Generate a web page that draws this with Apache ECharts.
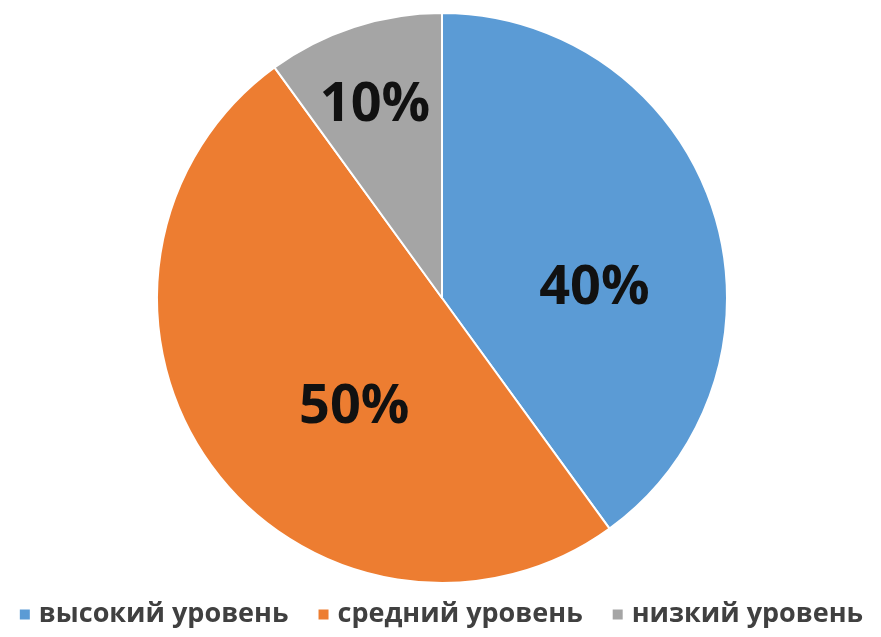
<!DOCTYPE html>
<html>
<head>
<meta charset="utf-8">
<script src="https://cdn.jsdelivr.net/npm/echarts@6/dist/echarts.min.js"></script>
<style>
  html, body { margin: 0; padding: 0; background: #ffffff; }
  #chart { width: 881px; height: 637px; }
</style>
</head>
<body>
<div id="chart"></div>
<script>
// Levels and their shares, in percent
const categories = ['высокий уровень', 'средний уровень', 'низкий уровень'];
const values = [40, 50, 10];
const colors = ['#5B9BD5', '#ED7D31', '#A5A5A5'];
// Nudges for the percent labels inside each slice
const labelOffsets = [[14, 36], [30, 24], [-22, -54]];

const chart = echarts.init(document.getElementById('chart'));
chart.setOption({
  animation: false,
  backgroundColor: '#ffffff',
  legend: {
    bottom: 4,
    left: 'center',
    icon: 'rect',
    itemWidth: 12,
    itemHeight: 12,
    itemGap: 28,
    textStyle: {
      fontFamily: 'Open Sans',
      fontWeight: 'bold',
      fontSize: 27,
      color: '#404040',
      padding: [0, 0, 0, 3]
    },
    data: categories
  },
  series: [{
    type: 'pie',
    center: [442, 298],
    radius: [0, 285],
    startAngle: 90,
    clockwise: true,
    itemStyle: { borderColor: '#ffffff', borderWidth: 2 },
    label: {
      show: true,
      position: 'inside',
      formatter: '{d}%',
      fontFamily: 'Open Sans',
      fontWeight: 'bold',
      fontSize: 54,
      color: '#111111'
    },
    labelLine: { show: false },
    data: categories.map((name, i) => ({
      name: name,
      value: values[i],
      itemStyle: { color: colors[i] },
      label: { offset: labelOffsets[i] }
    }))
  }]
});
</script>
</body>
</html>
